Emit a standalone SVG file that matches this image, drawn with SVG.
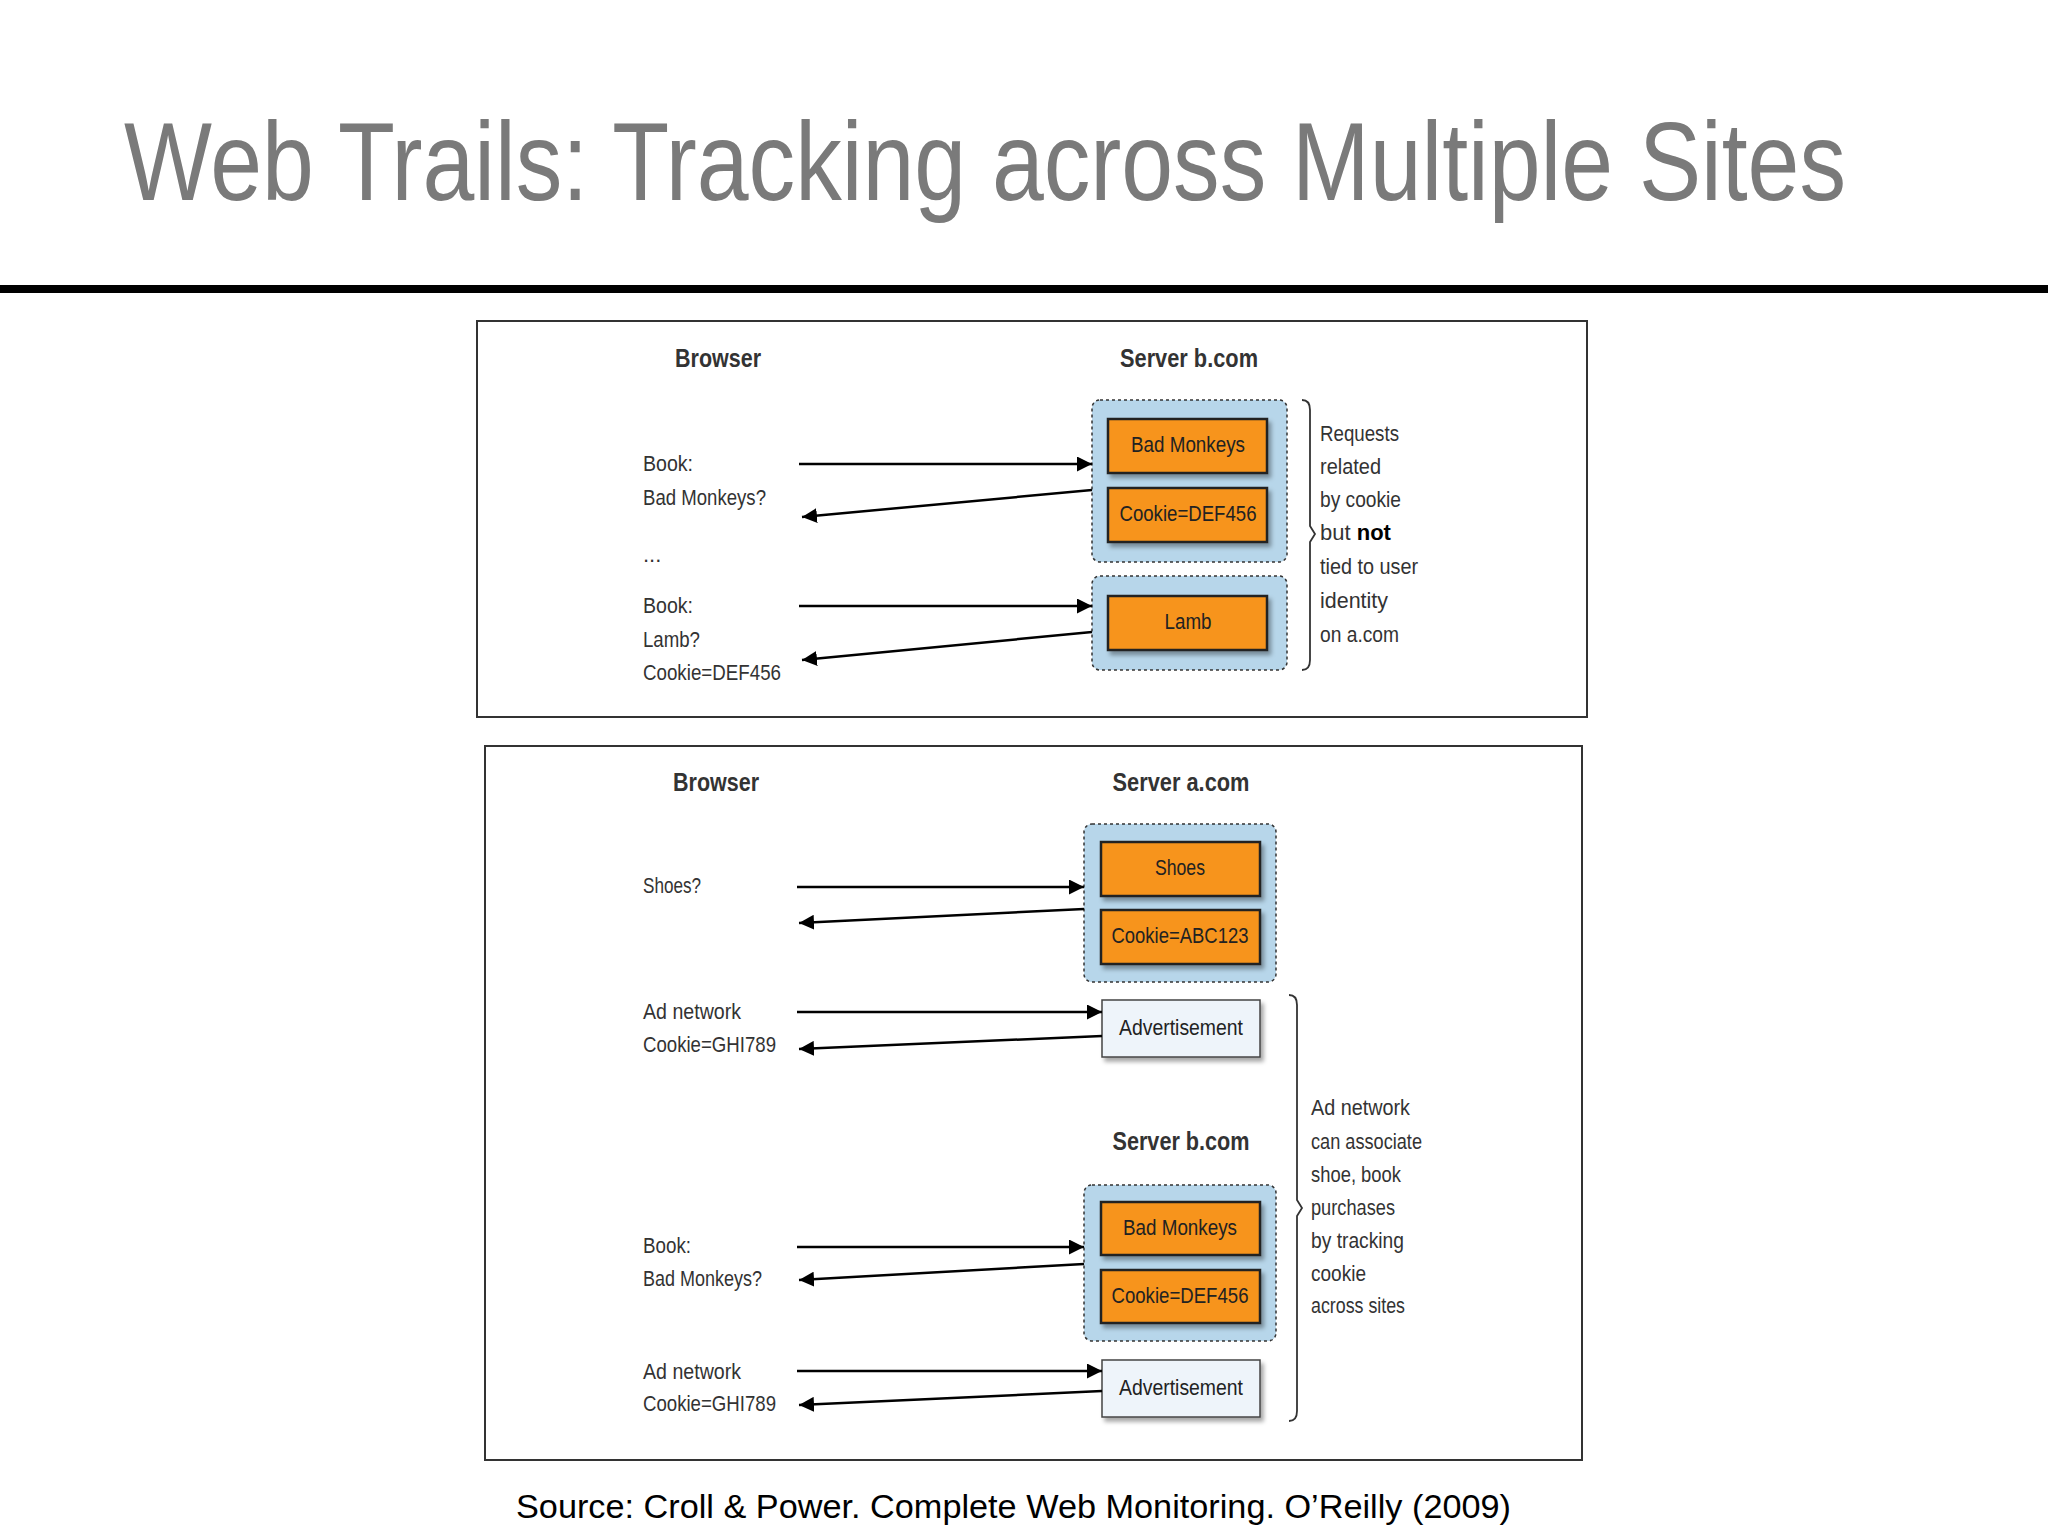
<svg xmlns="http://www.w3.org/2000/svg" width="2048" height="1536" viewBox="0 0 2048 1536">
<defs>
<marker id="ah" viewBox="0 0 10 10" refX="10" refY="5" markerWidth="6" markerHeight="6" orient="auto-start-reverse"><path d="M0,0 L10,5 L0,10 z" fill="#000"/></marker>
<filter id="sh" x="-10%" y="-10%" width="130%" height="140%"><feDropShadow dx="3" dy="4" stdDeviation="2" flood-color="#000" flood-opacity="0.35"/></filter>
</defs>
<style>
.t{font-family:"Liberation Sans",Arial,sans-serif;font-size:22px;fill:#333;dominant-baseline:middle}
.h{font-family:"Liberation Sans",Arial,sans-serif;font-size:25px;font-weight:bold;fill:#333;text-anchor:middle;dominant-baseline:middle}
.grp{fill:#b7d6ea;stroke:#333;stroke-width:1.5;stroke-dasharray:3 3}
.ob{fill:#f7941d;stroke:#222;stroke-width:2.5}
.ad{fill:#eef4fa;stroke:#444;stroke-width:1.5}
.bt{font-family:"Liberation Sans",Arial,sans-serif;font-size:22px;fill:#222;text-anchor:middle;dominant-baseline:middle}
.ln{stroke:#000;stroke-width:2.5;fill:none;marker-end:url(#ah)}
.br{stroke:#333;stroke-width:1.8;fill:none}
.panel{fill:#fff;stroke:#333;stroke-width:2}
</style>
<rect width="2048" height="1536" fill="#fff"/>
<text x="124" y="200" font-family="Liberation Sans, Arial, sans-serif" font-size="112" fill="#7a7a7a" textLength="1722" lengthAdjust="spacingAndGlyphs">Web Trails: Tracking across Multiple Sites</text>
<rect x="0" y="285" width="2048" height="8" fill="#000"/>

<rect class="panel" x="477" y="321" width="1110" height="396"/>
<rect class="panel" x="485" y="746" width="1097" height="714"/>

<g id="p1-labels">
<text class="h" x="718" y="360" textLength="86" lengthAdjust="spacingAndGlyphs">Browser</text>
<text class="h" x="1189" y="360" textLength="138" lengthAdjust="spacingAndGlyphs">Server b.com</text>
<text class="t" x="643" y="465" textLength="50" lengthAdjust="spacingAndGlyphs">Book:</text>
<text class="t" x="643" y="499" textLength="123" lengthAdjust="spacingAndGlyphs">Bad Monkeys?</text>
<text class="t" x="643" y="556">...</text>
<text class="t" x="643" y="607" textLength="50" lengthAdjust="spacingAndGlyphs">Book:</text>
<text class="t" x="643" y="641" textLength="57" lengthAdjust="spacingAndGlyphs">Lamb?</text>
<text class="t" x="643" y="674" textLength="138" lengthAdjust="spacingAndGlyphs">Cookie=DEF456</text>
</g>
<g id="p1-group1">
<rect class="grp" x="1092" y="400" width="195" height="162" rx="8"/>
<rect class="ob" x="1108" y="419" width="159" height="54" filter="url(#sh)"/>
<text class="bt" x="1188" y="446" textLength="114" lengthAdjust="spacingAndGlyphs">Bad Monkeys</text>
<rect class="ob" x="1108" y="488" width="159" height="54" filter="url(#sh)"/>
<text class="bt" x="1188" y="515" textLength="137" lengthAdjust="spacingAndGlyphs">Cookie=DEF456</text>
</g>
<g id="p1-group2">
<rect class="grp" x="1092" y="576" width="195" height="94" rx="8"/>
<rect class="ob" x="1108" y="596" width="159" height="54" filter="url(#sh)"/>
<text class="bt" x="1188" y="623" textLength="47" lengthAdjust="spacingAndGlyphs">Lamb</text>
</g>
<g id="p1-note">
<path class="br" d="M1302,400 Q1310,400 1310,410 L1310,526 L1315,534 L1310,542 L1310,660 Q1310,670 1302,670"/>
<text class="t" x="1320" y="435" textLength="79" lengthAdjust="spacingAndGlyphs">Requests</text>
<text class="t" x="1320" y="468" textLength="61" lengthAdjust="spacingAndGlyphs">related</text>
<text class="t" x="1320" y="501" textLength="81" lengthAdjust="spacingAndGlyphs">by cookie</text>
<text class="t" x="1320" y="534">but <tspan font-weight="bold" fill="#000">not</tspan></text>
<text class="t" x="1320" y="568" textLength="98" lengthAdjust="spacingAndGlyphs">tied to user</text>
<text class="t" x="1320" y="602" textLength="68" lengthAdjust="spacingAndGlyphs">identity</text>
<text class="t" x="1320" y="636" textLength="79" lengthAdjust="spacingAndGlyphs">on a.com</text>
</g>

<g id="p2-labels">
<text class="h" x="716" y="784" textLength="86" lengthAdjust="spacingAndGlyphs">Browser</text>
<text class="h" x="1181" y="784" textLength="137" lengthAdjust="spacingAndGlyphs">Server a.com</text>
<text class="h" x="1181" y="1143" textLength="137" lengthAdjust="spacingAndGlyphs">Server b.com</text>
<text class="t" x="643" y="887" textLength="58" lengthAdjust="spacingAndGlyphs">Shoes?</text>
<text class="t" x="643" y="1013" textLength="98" lengthAdjust="spacingAndGlyphs">Ad network</text>
<text class="t" x="643" y="1046" textLength="133" lengthAdjust="spacingAndGlyphs">Cookie=GHI789</text>
<text class="t" x="643" y="1247" textLength="48" lengthAdjust="spacingAndGlyphs">Book:</text>
<text class="t" x="643" y="1280" textLength="119" lengthAdjust="spacingAndGlyphs">Bad Monkeys?</text>
<text class="t" x="643" y="1373" textLength="98" lengthAdjust="spacingAndGlyphs">Ad network</text>
<text class="t" x="643" y="1405" textLength="133" lengthAdjust="spacingAndGlyphs">Cookie=GHI789</text>
</g>
<g id="p2-group-a">
<rect class="grp" x="1084" y="824" width="192" height="158" rx="8"/>
<rect class="ob" x="1101" y="842" width="159" height="54" filter="url(#sh)"/>
<text class="bt" x="1180" y="869" textLength="50" lengthAdjust="spacingAndGlyphs">Shoes</text>
<rect class="ob" x="1101" y="910" width="159" height="54" filter="url(#sh)"/>
<text class="bt" x="1180" y="937" textLength="137" lengthAdjust="spacingAndGlyphs">Cookie=ABC123</text>
</g>
<g id="p2-ad1">
<rect class="ad" x="1102" y="1000" width="158" height="57" filter="url(#sh)"/>
<text class="bt" x="1181" y="1029" textLength="124" lengthAdjust="spacingAndGlyphs">Advertisement</text>
</g>
<g id="p2-group-b">
<rect class="grp" x="1084" y="1185" width="192" height="156" rx="8"/>
<rect class="ob" x="1101" y="1202" width="159" height="53" filter="url(#sh)"/>
<text class="bt" x="1180" y="1229" textLength="114" lengthAdjust="spacingAndGlyphs">Bad Monkeys</text>
<rect class="ob" x="1101" y="1270" width="159" height="53" filter="url(#sh)"/>
<text class="bt" x="1180" y="1297" textLength="137" lengthAdjust="spacingAndGlyphs">Cookie=DEF456</text>
</g>
<g id="p2-ad2">
<rect class="ad" x="1102" y="1360" width="158" height="57" filter="url(#sh)"/>
<text class="bt" x="1181" y="1389" textLength="124" lengthAdjust="spacingAndGlyphs">Advertisement</text>
</g>
<g id="p2-note">
<path class="br" d="M1289,995 Q1297,995 1297,1005 L1297,1200 L1302,1208 L1297,1216 L1297,1411 Q1297,1421 1289,1421"/>
<text class="t" x="1311" y="1109" textLength="99" lengthAdjust="spacingAndGlyphs">Ad network</text>
<text class="t" x="1311" y="1143" textLength="111" lengthAdjust="spacingAndGlyphs">can associate</text>
<text class="t" x="1311" y="1176" textLength="90" lengthAdjust="spacingAndGlyphs">shoe, book</text>
<text class="t" x="1311" y="1209" textLength="84" lengthAdjust="spacingAndGlyphs">purchases</text>
<text class="t" x="1311" y="1242" textLength="93" lengthAdjust="spacingAndGlyphs">by tracking</text>
<text class="t" x="1311" y="1275" textLength="55" lengthAdjust="spacingAndGlyphs">cookie</text>
<text class="t" x="1311" y="1307" textLength="94" lengthAdjust="spacingAndGlyphs">across sites</text>
</g>

<g id="connectors">
<line class="ln" x1="799" y1="464" x2="1092" y2="464"/>
<line class="ln" x1="1092" y1="490" x2="802" y2="517"/>
<line class="ln" x1="799" y1="606" x2="1092" y2="606"/>
<line class="ln" x1="1092" y1="632" x2="802" y2="660"/>
<line class="ln" x1="797" y1="887" x2="1084" y2="887"/>
<line class="ln" x1="1084" y1="909" x2="799" y2="923"/>
<line class="ln" x1="797" y1="1012" x2="1102" y2="1012" stroke-width="1.5"/>
<line class="ln" x1="1102" y1="1036" x2="799" y2="1049"/>
<line class="ln" x1="797" y1="1247" x2="1084" y2="1247"/>
<line class="ln" x1="1084" y1="1264" x2="799" y2="1280"/>
<line class="ln" x1="797" y1="1371" x2="1102" y2="1371"/>
<line class="ln" x1="1102" y1="1391" x2="799" y2="1405"/>
</g>

<text x="516" y="1518" font-family="Liberation Sans, Arial, sans-serif" font-size="33" fill="#000" textLength="995" lengthAdjust="spacingAndGlyphs">Source: Croll &amp; Power. Complete Web Monitoring. O’Reilly (2009)</text>
</svg>
